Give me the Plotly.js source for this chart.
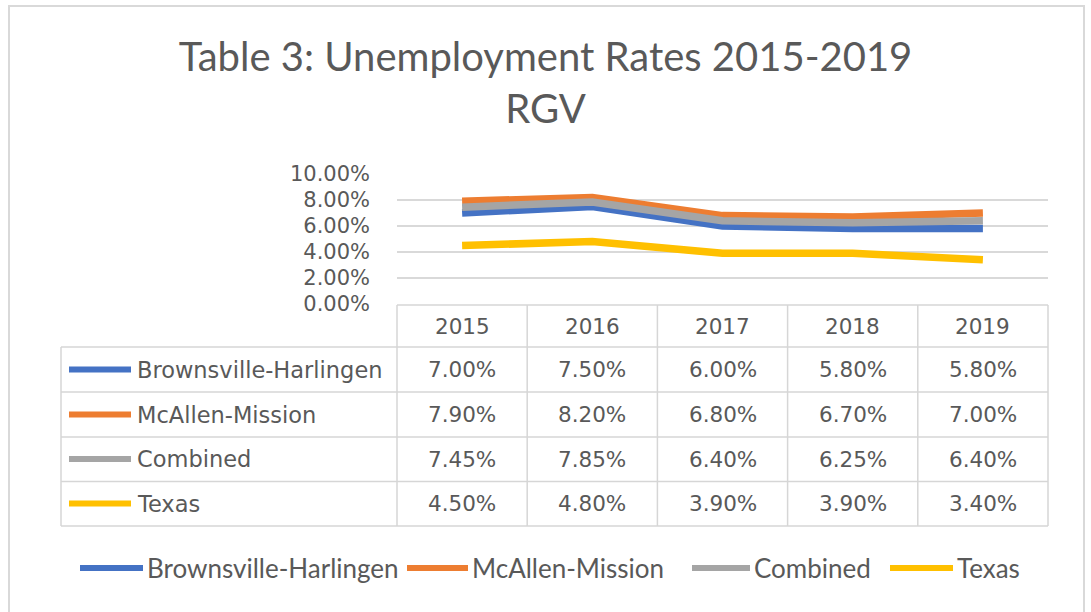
<!DOCTYPE html>
<html>
<head>
<meta charset="utf-8">
<script src="https://cdn.plot.ly/plotly-3.0.1.min.js"></script>
<style>html,body{margin:0;padding:0;background:#fff;}#chart{width:1091px;height:612px;}</style>
</head>
<body>
<div id="chart"></div>
<script>
// ---- data ----
const years = ['2015', '2016', '2017', '2018', '2019'];
const seriesNames = ['Brownsville-Harlingen', 'McAllen-Mission', 'Combined', 'Texas'];
const brownsville = [7.00, 7.50, 6.00, 5.80, 5.80];
const mcallen = [7.90, 8.20, 6.80, 6.70, 7.00];
const combined = [7.45, 7.85, 6.40, 6.25, 6.40];
const texas = [4.50, 4.80, 3.90, 3.90, 3.40];
const seriesValues = [brownsville, mcallen, combined, texas];
const colors = ['#4472C4', '#ED7D31', '#A5A5A5', '#FFC000'];

// ---- geometry helpers (pixel -> paper) ----
const W = 1091, H = 612;
const L = 397, R = 1048, T = 174, B = 304;
const px = x => (x - L) / (R - L);
const py = y => (B - y) / (B - T);

const textColor = '#595959';
const gridColor = '#d9d9d9';
const tableFont = {family: 'DejaVu Sans, sans-serif', size: 21.5, color: textColor};
const labelFont = {family: 'DejaVu Sans, sans-serif', size: 22.5, color: textColor};

const traces = seriesNames.map((name, i) => ({
  type: 'scatter', mode: 'lines', name: name,
  x: years, y: seriesValues[i],
  line: {color: colors[i], width: 7.5},
  showlegend: false, hoverinfo: 'skip'
}));

const shapes = [];
const annotations = [];
const lineStyle = {color: '#d6d6d6', width: 1.5};

// outer chart border
shapes.push({type: 'rect', xref: 'paper', yref: 'paper', x0: px(9), x1: px(1084), y0: py(6), y1: py(640),
  line: {color: '#d9d9d9', width: 2}, fillcolor: 'rgba(0,0,0,0)', layer: 'below'});

// table structure
const rowLines = [347, 392, 437, 481.5, 526];
const rowCenters = [369.5, 414.5, 459, 503.5];
const headerTop = 305, headerCenter = 326, labelLeft = 61;
shapes.push({type: 'line', xref: 'paper', yref: 'paper', x0: 0, x1: 1, y0: py(headerTop), y1: py(headerTop), line: lineStyle});
rowLines.forEach(y => shapes.push({type: 'line', xref: 'paper', yref: 'paper', x0: px(labelLeft), x1: 1, y0: py(y), y1: py(y), line: lineStyle}));
shapes.push({type: 'line', xref: 'paper', yref: 'paper', x0: px(labelLeft), x1: px(labelLeft), y0: py(rowLines[0]), y1: py(rowLines[rowLines.length - 1]), line: lineStyle});
for (let i = 0; i <= years.length; i++) {
  const xp = i / years.length;
  shapes.push({type: 'line', xref: 'paper', yref: 'paper', x0: xp, x1: xp, y0: py(headerTop), y1: py(rowLines[rowLines.length - 1]), line: lineStyle});
}

// header years (category axis: x is the category index)
years.forEach((yr, j) => annotations.push({xref: 'x', yref: 'paper', x: j, y: py(headerCenter), text: yr,
  showarrow: false, xanchor: 'center', yanchor: 'middle', font: tableFont}));

// rows
seriesNames.forEach((name, i) => {
  const yc = py(rowCenters[i]);
  shapes.push({type: 'line', xref: 'paper', yref: 'paper', x0: px(69), x1: px(131), y0: yc, y1: yc,
    line: {color: colors[i], width: 6}});
  annotations.push({xref: 'paper', yref: 'paper', x: px(135), y: yc, text: name, showarrow: false,
    xanchor: 'left', yanchor: 'middle', font: labelFont});
  seriesValues[i].forEach((v, j) => annotations.push({xref: 'x', yref: 'paper', x: j, y: yc,
    text: v.toFixed(2) + '%', showarrow: false, xanchor: 'center', yanchor: 'middle', font: tableFont}));
});

// bottom legend
const legendY = 568;
const legendItems = [[80, 143, 145], [407, 468, 470], [692, 750, 752], [890, 953, 955]];
seriesNames.forEach((name, i) => {
  const [a, b, t] = legendItems[i];
  shapes.push({type: 'line', xref: 'paper', yref: 'paper', x0: px(a), x1: px(b), y0: py(legendY), y1: py(legendY),
    line: {color: colors[i], width: 6}});
  annotations.push({xref: 'paper', yref: 'paper', x: px(t), y: py(legendY), text: name, showarrow: false,
    xanchor: 'left', yanchor: 'middle', font: {family: 'Lato, sans-serif', size: 26, color: textColor}});
});

const layout = {
  width: W, height: H,
  margin: {l: L, r: W - R, t: T, b: H - B, pad: 0},
  paper_bgcolor: '#ffffff', plot_bgcolor: '#ffffff',
  showlegend: false,
  title: {text: 'Table 3: Unemployment Rates 2015-2019<br>RGV', x: 0.5, xanchor: 'center',
    yref: 'container', y: 1 - 71 / H, yanchor: 'top',
    font: {family: 'Lato, sans-serif', size: 40, color: textColor}},
  xaxis: {type: 'category', range: [-0.5, 4.5], showticklabels: false, showgrid: false, zeroline: false,
    showline: false, ticks: '', fixedrange: true},
  yaxis: {range: [0, 10], dtick: 2, tick0: 0, tickformat: '.2f', ticksuffix: '%',
    showgrid: true, gridcolor: gridColor, gridwidth: 1.5, zeroline: false, showline: false,
    ticks: '', ticklabelstandoff: 26,
    tickfont: {family: 'DejaVu Sans, sans-serif', size: 21, color: textColor}, fixedrange: true},
  shapes: shapes,
  annotations: annotations
};

Plotly.newPlot('chart', traces, layout, {displayModeBar: false, staticPlot: true});
</script>
</body>
</html>
